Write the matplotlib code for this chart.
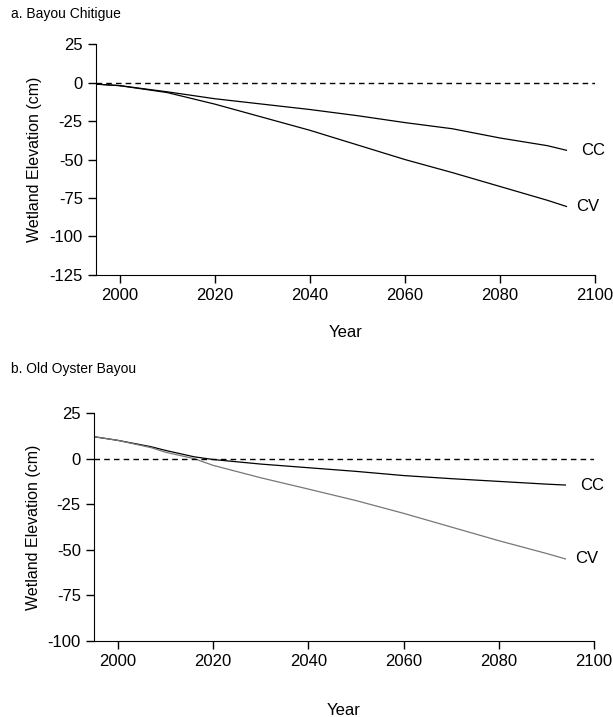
import matplotlib
matplotlib.use("Agg")
import matplotlib.pyplot as plt

plt.rcParams['font.family'] = ['Liberation Sans', 'DejaVu Sans']
plt.rcParams['axes.unicode_minus'] = False

# a. Bayou Chitigue
years_a = [1995, 2000, 2010, 2020, 2030, 2040, 2050, 2060, 2070, 2080, 2090, 2094]
cc_a = [-1, -2, -6, -10.5, -14, -17.5, -21.5, -26, -30, -36, -41, -44]
cv_a = [-1, -2, -6.5, -14, -22.5, -31, -40.5, -50, -58.5, -67.5, -76.5, -80.5]

# b. Old Oyster Bayou
years_b = [1995, 2000, 2007, 2010, 2016, 2020, 2030, 2040, 2050, 2060, 2070, 2080, 2090, 2094]
cc_b = [12, 10, 6.5, 4.5, 1, -0.5, -3, -5, -7, -9.3, -11, -12.5, -14, -14.5]
cv_b = [12, 10, 6, 3.5, 0, -3.7, -10.5, -16.7, -23, -30, -37.5, -45, -52, -55]

fig = plt.figure(figsize=(6.13, 7.17), dpi=100)


def panel(ax, years, cc, cv, cv_color, ylim, yticks):
    ax.plot(years, cc, color='black', lw=0.9)
    ax.plot(years, cv, color=cv_color, lw=0.9)
    ax.axhline(0, color='black', lw=1.0, ls=(0, (4, 3)))
    ax.text(years[-1] + 3, cc[-1], 'CC', fontsize=12, va='center', ha='left')
    ax.text(years[-1] + 2, cv[-1], 'CV', fontsize=12, va='center', ha='left')
    ax.set_xlim(1995, 2100)
    ax.set_ylim(*ylim)
    ax.set_xticks([2000, 2020, 2040, 2060, 2080, 2100])
    ax.set_yticks(yticks)
    ax.spines['top'].set_visible(False)
    ax.spines['right'].set_visible(False)
    ax.tick_params(direction='out', length=6, width=1, labelsize=12)
    ax.set_ylabel('Wetland Elevation (cm)', fontsize=11.5, labelpad=5)


ax1 = fig.add_axes([0.1566, 0.6165, 0.814, 0.322])
panel(ax1, years_a, cc_a, cv_a, 'black', (-125, 25), [25, 0, -25, -50, -75, -100, -125])
ax1.set_xlabel('Year', fontsize=12, labelpad=16)
fig.text(0.018, 0.98, 'a. Bayou Chitigue', fontsize=10, va='center')

ax2 = fig.add_axes([0.1533, 0.106, 0.8157, 0.318])
panel(ax2, years_b, cc_b, cv_b, '#777777', (-100, 25), [25, 0, -25, -50, -75, -100])
ax2.set_xlabel('Year', fontsize=12, labelpad=24)
fig.text(0.018, 0.485, 'b. Old Oyster Bayou', fontsize=10, va='center')

fig.savefig('out.png', dpi=100)
